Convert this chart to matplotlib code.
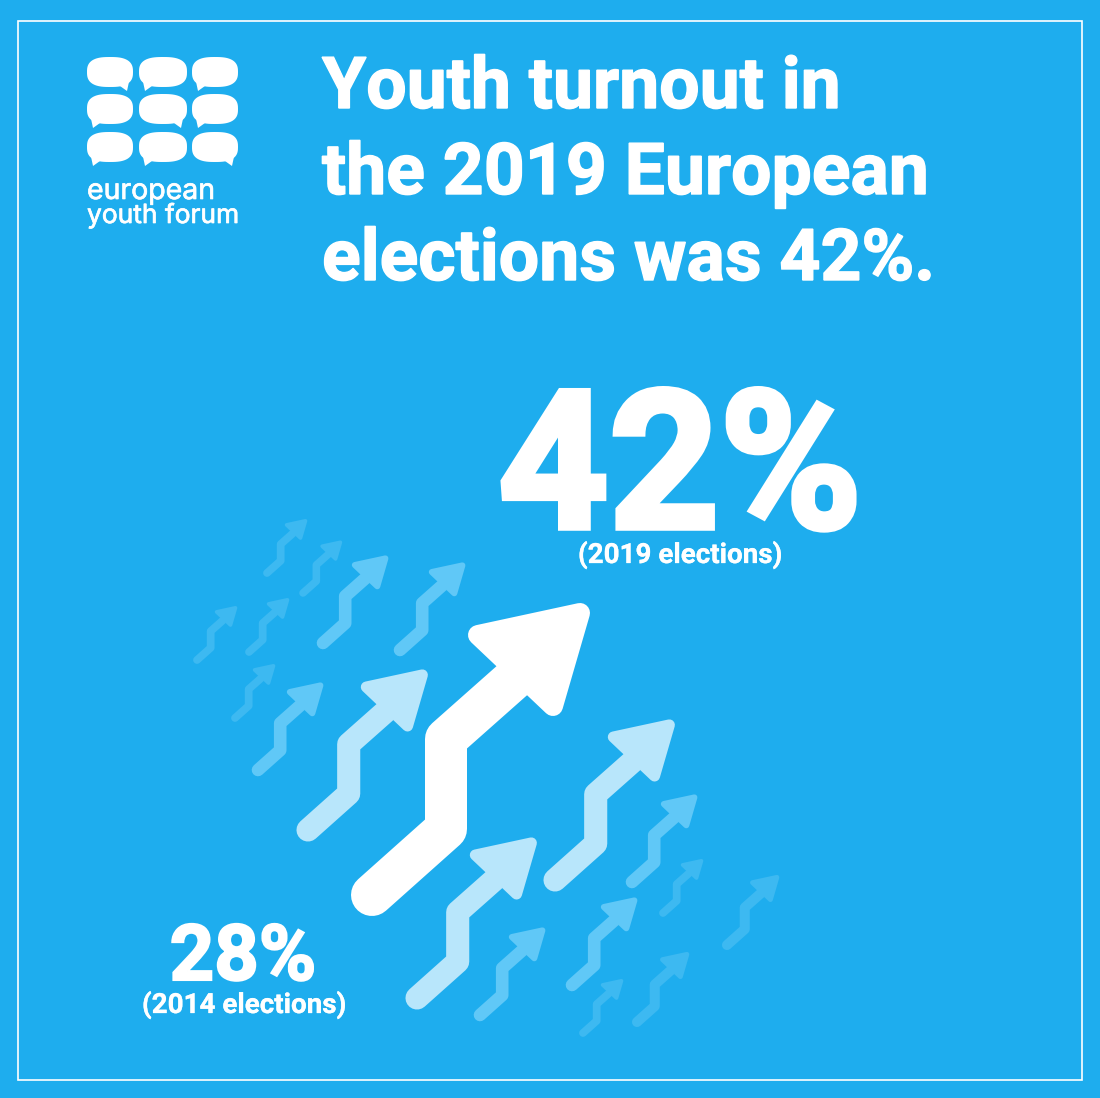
import matplotlib
matplotlib.use("Agg")
import matplotlib.pyplot as plt
import matplotlib.patheffects as pe
import numpy as np
from matplotlib.patches import Rectangle, Polygon

BG = "#1EADEE"
WHITE = "#FFFFFF"
LIGHT = "#B8E6FB"
MID = "#60C8F7"
FAINT = "#3DB9F1"

title_lines = ["Youth turnout in", "the 2019 European", "elections was 42%."]
value_2019 = "42%"
label_2019 = "(2019 elections)"
value_2014 = "28%"
label_2014 = "(2014 elections)"
logo_lines = ["european", "youth forum"]

# one arrow shape, in pixels of the big arrow, measured from the middle of the tail
shaft_x = [0, 74, 74, 153]
shaft_y = [0, -66, -156, -226]
shaft_width = 42
head_x = [106, 208, 181]
head_y = [-260, -282, -189]
head_round = 20

# tail position, size and colour of each arrow
arrow_x = [372, 308, 417, 555, 323, 400, 258, 632, 572, 480, 267, 303, 197, 249, 235, 663, 727, 637, 583]
arrow_y = [895, 830, 998, 880, 643, 650, 770, 882, 985, 1015, 573, 593, 660, 652, 718, 913, 945, 1022, 1033]
arrow_size = [1, .55, .55, .55, .30, .30, .30, .30, .30, .30, .185, .18, .185, .185, .185, .185, .24, .24, .185]
arrow_color = [WHITE, LIGHT, LIGHT, LIGHT, MID, MID, MID, MID, MID, MID,
               FAINT, FAINT, FAINT, FAINT, FAINT, FAINT, FAINT, FAINT, FAINT]

# logo bubbles, row by row: which side the little tail is on
bubble_left = [87, 139, 192]
bubble_top = [57, 94, 132]
bubble_w = [46, 48, 46]
bubble_h = 30
bubble_tail = [["r", "l", "l"], ["l", "r", "l"], ["l", "l", "r"]]

fig = plt.figure(figsize=(11, 10.98), dpi=100, facecolor=BG)
ax = fig.add_axes([0, 0, 1, 1])
ax.set_xlim(0, 1100)
ax.set_ylim(1098, 0)
ax.axis("off")

ax.add_patch(Rectangle((18, 21), 1064, 1059, fill=False, edgecolor=WHITE, lw=1.2))


def draw_arrow(x, y, s, color):
    px = [x + s * v for v in shaft_x]
    py = [y + s * v for v in shaft_y]
    ax.plot(px, py, color=color, lw=shaft_width * s * 0.72,
            solid_capstyle="round", solid_joinstyle="round", zorder=2)
    hx = [x + s * v for v in head_x]
    hy = [y + s * v for v in head_y]
    ax.add_patch(Polygon(list(zip(hx, hy)), closed=True, facecolor=color, edgecolor=color,
                         lw=head_round * s * 0.72, joinstyle="round", zorder=2))


def bold(lw):
    # Roboto Bold is a bit thin next to the original lettering
    return [pe.withStroke(linewidth=lw, foreground=WHITE, joinstyle="miter")]


# small ones first so the big ones sit on top
for i in reversed(range(len(arrow_x))):
    draw_arrow(arrow_x[i], arrow_y[i], arrow_size[i], arrow_color[i])

t = np.linspace(0, 2 * np.pi, 80)
for r, top in enumerate(bubble_top):
    for c, left in enumerate(bubble_left):
        w = bubble_w[c]
        # squashed circle, the bubbles are neither ellipses nor rounded boxes
        ex = np.sign(np.cos(t)) * np.abs(np.cos(t)) ** (2 / 2.7)
        ey = np.sign(np.sin(t)) * np.abs(np.sin(t)) ** (2 / 2.7)
        ax.fill(left + w / 2 + ex * w / 2, top + bubble_h / 2 + ey * bubble_h / 2,
                color=WHITE, lw=0)
        if bubble_tail[r][c] == "r":
            pts = [(left + w - 20, top + 24), (left + w - 3, top + 20), (left + w - 6, top + bubble_h + 4)]
        else:
            pts = [(left + 20, top + 24), (left + 3, top + 20), (left + 6, top + bubble_h + 4)]
        ax.add_patch(Polygon(pts, closed=True, facecolor=WHITE, edgecolor="none"))

ax.text(87, 199, logo_lines[0], color=WHITE, fontsize=20.5, family="Inter", va="baseline",
        path_effects=bold(0.5))
ax.text(87, 223, logo_lines[1], color=WHITE, fontsize=19, family="Inter", va="baseline",
        path_effects=bold(0.5))

for line, y in zip(title_lines, [108, 194, 280]):
    ax.text(322, y, line, color=WHITE, fontsize=51.5, family="Roboto", fontweight="bold",
            va="baseline", path_effects=bold(1))

ax.text(498, 528, value_2019, color=WHITE, fontsize=139, family="Roboto", fontweight="bold",
        va="baseline", path_effects=bold(4))
ax.text(680, 563, label_2019, color=WHITE, fontsize=20, family="Roboto", fontweight="bold",
        va="baseline", ha="center", path_effects=bold(0.2))
ax.text(243, 980, value_2014, color=WHITE, fontsize=56, family="Roboto", fontweight="bold",
        va="baseline", ha="center", path_effects=bold(1.5))
ax.text(244, 1013, label_2014, color=WHITE, fontsize=20, family="Roboto", fontweight="bold",
        va="baseline", ha="center", path_effects=bold(0.2))

fig.savefig("out.png", dpi=100, facecolor=BG)
